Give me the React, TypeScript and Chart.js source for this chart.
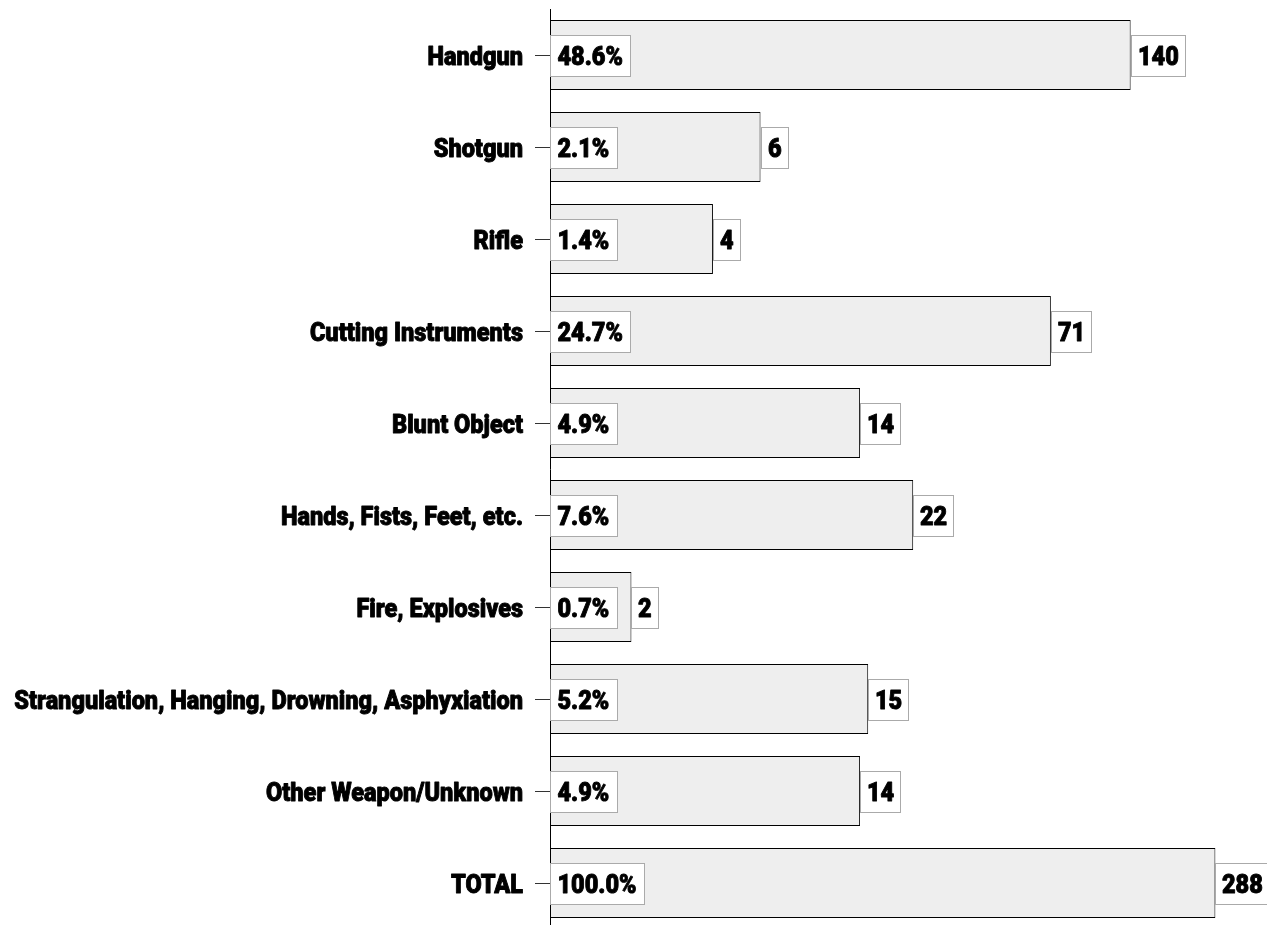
import React, { useEffect, useRef } from "react";
import { Chart, registerables } from "chart.js";

Chart.register(...registerables);

const categories = [
  "Handgun",
  "Shotgun",
  "Rifle",
  "Cutting Instruments",
  "Blunt Object",
  "Hands, Fists, Feet, etc.",
  "Fire, Explosives",
  "Strangulation, Hanging, Drowning, Asphyxiation",
  "Other Weapon/Unknown",
  "TOTAL",
];
const counts = [140, 6, 4, 71, 14, 22, 2, 15, 14, 288];
const percentLabels = ["48.6%", "2.1%", "1.4%", "24.7%", "4.9%", "7.6%", "0.7%", "5.2%", "4.9%", "100.0%"];

const FONT_FAMILY = "Roboto, 'DejaVu Sans Condensed', sans-serif";
const FONT = `900 25px ${FONT_FAMILY}`;
const TEXT_SCALE = 0.94;
const BASELINE_SHIFT = 10;

function drawScaledText(ctx: CanvasRenderingContext2D, text: string, x: number, y: number, align: "left" | "right") {
  const w = ctx.measureText(text).width * TEXT_SCALE;
  const startX = align === "left" ? x : x - w;
  ctx.save();
  ctx.translate(startX, y);
  ctx.scale(TEXT_SCALE, 1);
  ctx.textAlign = "left";
  ctx.textBaseline = "alphabetic";
  ctx.fillStyle = "#000000";
  ctx.strokeStyle = "#000000";
  ctx.lineWidth = 0.9;
  ctx.lineJoin = "round";
  ctx.fillText(text, 0, 0);
  ctx.strokeText(text, 0, 0);
  ctx.restore();
  return w;
}

const labelBoxes = {
  id: "labelBoxes",
  afterDatasetsDraw(chart: any) {
    const ctx = chart.ctx;
    const meta = chart.getDatasetMeta(0);
    const yScale = chart.scales.y;
    ctx.save();
    ctx.font = FONT;
    const boxH = 41;
    // category labels on the y axis
    const labelRight = chart.chartArea.left - 15 - 12;
    categories.forEach((c, i) => {
      drawScaledText(ctx, c, labelRight, yScale.getPixelForTick(i) + BASELINE_SHIFT, "right");
    });
    meta.data.forEach((bar: any, i: number) => {
      const y = bar.y;
      const by = Math.round(y - boxH / 2) + 0.5;
      // percentage box at the bar's base
      const pText = percentLabels[i];
      const pw = Math.round(ctx.measureText(pText).width * TEXT_SCALE + 15);
      const px = Math.round(bar.base) + 0.5;
      ctx.fillStyle = "#ffffff";
      ctx.fillRect(px, by, pw, boxH);
      ctx.strokeStyle = "#aaaaaa";
      ctx.lineWidth = 1;
      ctx.strokeRect(px, by, pw, boxH);
      drawScaledText(ctx, pText, px + 7, y + BASELINE_SHIFT, "left");
      // value box at the bar's end
      const vText = String(counts[i]);
      const vw = Math.round(ctx.measureText(vText).width * TEXT_SCALE + 13);
      const vx = Math.round(bar.x) + 0.5;
      ctx.fillStyle = "#ffffff";
      ctx.fillRect(vx, by, vw, boxH);
      ctx.strokeStyle = "#aaaaaa";
      ctx.lineWidth = 1;
      ctx.strokeRect(vx, by, vw, boxH);
      drawScaledText(ctx, vText, vx + 6.5, y + BASELINE_SHIFT, "left");
    });
    ctx.restore();
  },
};

export default function App() {
  const ref = useRef<HTMLCanvasElement>(null);
  useEffect(() => {
    if (!ref.current) return;
    const chart = new Chart(ref.current, {
      type: "bar",
      data: {
        labels: categories,
        datasets: [
          {
            data: counts,
            backgroundColor: "#eeeeee",
            borderColor: "#000000",
            borderWidth: 1,
            borderSkipped: false,
            barPercentage: 70 / 92,
            categoryPercentage: 1,
          },
        ],
      },
      options: {
        indexAxis: "y",
        responsive: false,
        animation: false,
        layout: { padding: { top: 1, right: 13, bottom: 0, left: 0 } },
        plugins: { legend: { display: false }, tooltip: { enabled: false } },
        scales: {
          x: {
            type: "logarithmic",
            min: 1,
            max: 400,
            display: false,
          },
          y: {
            afterFit: (scale: any) => {
              scale.width = 542;
            },
            grid: {
              drawOnChartArea: false,
              tickLength: 15,
              tickColor: "#333333",
              offset: false,
            },
            border: { display: true, color: "#000000", width: 1 },
            ticks: { display: false },
          },
        },
      },
      plugins: [labelBoxes],
    });
    return () => chart.destroy();
  }, []);
  return (
    <div style={{ position: "fixed", left: 8, top: 8, width: 1259, height: 921 }}>
      <canvas ref={ref} width={1259} height={921} style={{ display: "block" }} />
    </div>
  );
}
